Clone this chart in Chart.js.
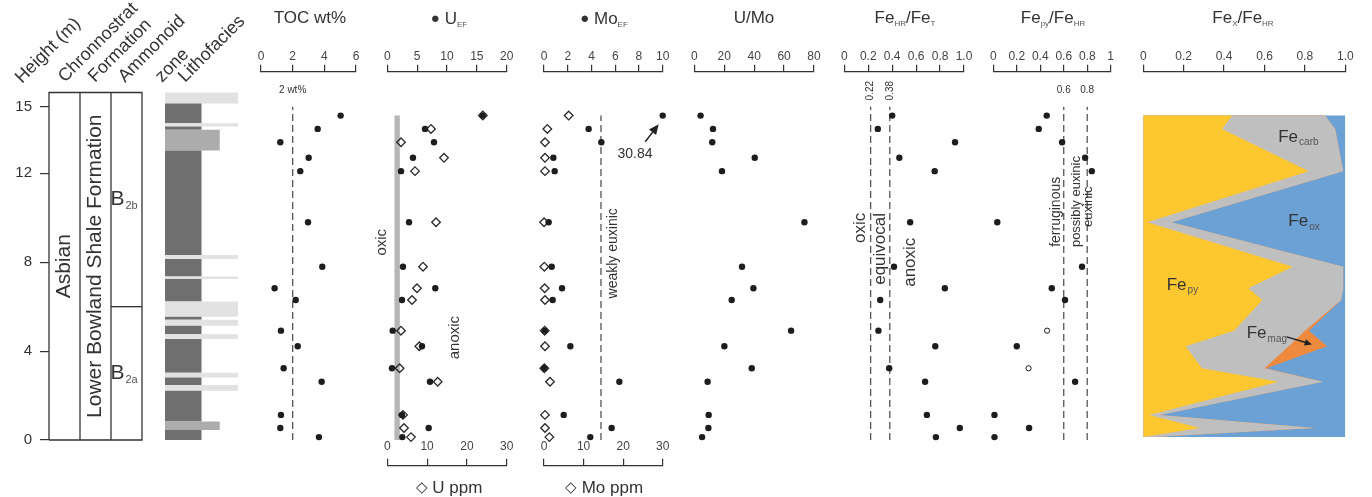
<!DOCTYPE html>
<html>
<head>
<meta charset="utf-8">
<title>Geochemical profile</title>
<script src="https://cdn.jsdelivr.net/npm/chart.js@4.4.1/dist/chart.umd.min.js"></script>
<style>
  body { margin: 0; background: #fff; }
  #page { position: relative; width: 1372px; height: 497px; overflow: hidden;
          font-family: "Liberation Sans", Arial, sans-serif; color: #333; }
  #page canvas { position: absolute; top: 0; }
  .title { position: absolute; top: 8px; font-size: 17px; line-height: 20px; white-space: nowrap; transform: translateX(-50%); }
  .title sub, .foot sub { font-size: 8px; vertical-align: -3px; color: #555; }
  .mark { font-size: 15px; vertical-align: 1px; }
  .foot { position: absolute; top: 477px; font-size: 17px; line-height: 20px; white-space: nowrap; transform: translateX(-50%); }
  .head { position: absolute; font-size: 18px; line-height: 18px; white-space: nowrap; transform-origin: 0 100%; transform: rotate(-45deg); }
</style>
</head>
<body>
<div id="page"></div>
<script>
// sample heights (m) shared by the geochemistry panels, top to bottom
const sampleHeight = [14.6, 14.0, 13.4, 12.7, 12.1, 9.8, 7.8, 6.83, 6.3, 4.92, 4.22, 3.23, 2.62, 1.13, 0.54, 0.13];
const toc    = [5.03, 3.58, 1.22, 3.01, 2.48, 2.97, 3.87, 0.86, 2.19, 1.26, 2.32, 1.43, 3.83, 1.26, 1.22, 3.66];
const uEF    = [15.97, 6.32, 7.82, 4.30, 2.30, 3.64, 2.63, 8.04, 2.46, 0.90, 5.81, 0.79, 7.15, 2.46, 6.93, 2.52];
const uPpm   = [24.0, 10.98, 3.44, 14.25, 6.96, 12.24, 8.97, 7.46, 6.21, 3.44, 8.04, 3.10, 12.66, 3.94, 4.19, 5.95];
const moEF   = [30.84, 3.76, 4.83, 0.79, 0.90, 0.39, 0.65, 1.52, 0.73, 0.06, 2.22, 0.03, 6.35, 1.66, 5.70, 3.90];
const moPpm  = [6.24, 0.84, 0.25, 0.25, 0.25, 0.02, 0.08, 0.17, 0.25, 0.17, 0.25, 0.08, 1.52, 0.25, 0.25, 1.35];
const uMo    = [4.2, 12.5, 12.0, 40.4, 18.5, 73.6, 31.9, 39.5, 25.0, 64.7, 20.1, 38.4, 8.9, 9.6, 9.4, 5.2];
const feHRT  = [0.40, 0.28, 0.925, 0.46, 0.755, 0.55, 0.415, 0.84, 0.30, 0.285, 0.76, 0.375, 0.675, 0.69, 0.965, 0.765];
const fePyHR = [0.455, 0.387, 0.586, 0.782, 0.839, 0.034, 0.756, 0.498, 0.611, 0.458, 0.20, 0.30, 0.697, 0.01, 0.305, 0.01];
const fePyOpen = [false, false, false, false, false, false, false, false, false, true, false, true, false, false, false, false];

// Fe speciation (fractions of FeHR)
const feSpecHeight = [14.6, 14.0, 12.1, 9.8, 7.8, 6.83, 6.3, 4.92, 4.22, 3.23, 2.62, 1.13, 0.54, 0.13];
const fePy   = [0.44, 0.39, 0.82, 0.02, 0.74, 0.52, 0.59, 0.45, 0.21, 0.29, 0.67, 0.03, 0.28, 0.00];
const feCarb = [0.46, 0.56, 0.17, 0.12, 0.25, 0.47, 0.39, 0.35, 0.51, 0.31, 0.22, 0.05, 0.57, 0.05];
const feMag  = [0, 0, 0, 0, 0, 0, 0, 0.02, 0.19, 0.01, 0, 0, 0, 0];
const feOx   = [0.10, 0.05, 0.01, 0.86, 0.01, 0.01, 0.02, 0.18, 0.09, 0.39, 0.11, 0.92, 0.15, 0.95];

// thresholds
const tocLimit = 2;
const moLimit = 14.4;          // Mo ppm, weakly euxinic
const feHRLimits = [0.22, 0.38];
const fePyLimits = [0.6, 0.8];
const limitTop = 15.0;
const moLimitTop = 14.6;
const oxicUEF = [1.2, 2.1];    // grey oxic band of U_EF
const oxicTop = 14.6;

// stratigraphy
const sectionTop = 15.64;
const zoneBoundary = 6.0;      // B2a / B2b
const lithoBase = [0, 0.45, 0.83, 2.22, 2.48, 2.81, 3.03, 4.54, 4.76, 5.14, 5.41, 5.55, 6.23, 7.24, 7.36, 8.14, 8.33, 13.03, 13.96, 14.11, 14.26, 15.14];
const lithoTop  = [0.45, 0.83, 2.22, 2.48, 2.81, 3.03, 4.54, 4.76, 5.14, 5.41, 5.55, 6.23, 7.24, 7.36, 8.14, 8.33, 13.03, 13.96, 14.11, 14.26, 15.14, 15.64];
const lithoType = ['M', 'S', 'M', 'L', 'M', 'L', 'M', 'L', 'M', 'L', 'M', 'L', 'M', 'L', 'M', 'L', 'M', 'S', 'M', 'L', 'M', 'L'];

// tick labels
const heightTicks = [0, 4, 8, 12, 15];
const tocTicks = [0, 2, 4, 6];
const uEFTicks = [0, 5, 10, 15, 20];
const uPpmTicks = [0, 10, 20, 30];
const moEFTicks = [0, 2, 4, 6, 8, 10];
const moPpmTicks = [0, 10, 20, 30];
const uMoTicks = [0, 20, 40, 60, 80];
const fracTicks = [0, 0.2, 0.4, 0.6, 0.8, 1];

// layout
const Y_MIN = -1.157, Y_MAX = 16.575;
const AREA_TOP = 71.7, AREA_BOTTOM = 465.7, PAGE_H = 497;
const FONT = '"Liberation Sans", Arial, sans-serif';
const INK = '#333';
const litStyle = { M: { w: 0.5, c: '#6f6f6f' }, S: { w: 0.75, c: '#acacac' }, L: { w: 1, c: '#e2e2e2' } };

const page = document.getElementById('page');

function addCanvas(left, width) {
  const c = document.createElement('canvas');
  c.width = width; c.height = PAGE_H;
  c.style.left = left + 'px';
  c.style.width = width + 'px';
  c.style.height = PAGE_H + 'px';
  page.appendChild(c);
  return c;
}

const pts = (xs, ys) => xs.map((v, i) => ({ x: v, y: ys[i] }));
const setTicks = vals => s => { s.ticks = vals.map(v => ({ value: v })); };

function topAxis(min, max, vals, fmt, height, pad) {
  return {
    type: 'linear', position: 'top', min, max,
    afterFit: s => { s.height = height || AREA_TOP; },
    afterBuildTicks: setTicks(vals),
    ticks: { autoSkip: false, maxRotation: 0, padding: pad == null ? 1 : pad, color: '#444', font: { family: FONT, size: 12 },
             callback: fmt || (v => String(v)) },
    grid: { drawOnChartArea: false, drawTicks: true, tickLength: 7, color: INK, lineWidth: 1.2 },
    border: { display: true, color: INK, width: 1.2 }
  };
}

const dot = (data, extra) => Object.assign({
  data, pointRadius: 3.2, pointBackgroundColor: '#1d1d1d', pointBorderColor: '#1d1d1d',
  pointBorderWidth: 0, showLine: false, clip: false
}, extra);

const diamond = (data, axis) => ({
  data, xAxisID: axis, pointStyle: 'rectRot', pointRadius: 4.3, pointBorderColor: '#2a2a2a',
  pointBorderWidth: 1.3, pointBackgroundColor: 'rgba(0,0,0,0)', showLine: false, clip: false
});

const dashed = (x, y0, y1, axis) => ({
  data: [{ x, y: y0 }, { x, y: y1 }], xAxisID: axis || 'x', showLine: true,
  borderColor: '#555', borderWidth: 1.3, borderDash: [7, 4], pointRadius: 0, clip: false
});

const shape = (data, color, axis) => ({
  data, xAxisID: axis || 'x', showLine: true, fill: 'shape', backgroundColor: color,
  borderColor: 'rgba(0,0,0,0)', borderWidth: 1, pointRadius: 0, clip: false
});

const rect = (x0, x1, y0, y1) => [{ x: x0, y: y0 }, { x: x1, y: y0 }, { x: x1, y: y1 }, { x: x0, y: y1 }];

function profileShape(xs, hs) {
  const p = xs.map((v, i) => ({ x: v, y: hs[i] }));
  p.push({ x: 0, y: hs[hs.length - 1] }, { x: 0, y: hs[0] });
  return p;
}
const cum = (...arrs) => arrs[0].map((_, i) => arrs.reduce((s, a) => s + a[i], 0));

function drawLabel(ctx, n, px, py) {
  const size = n.size || 15;
  const subSize = n.subSize || Math.round(size * 0.6);
  ctx.save();
  ctx.translate(px, py);
  if (n.rot) ctx.rotate(n.rot * Math.PI / 180);
  ctx.fillStyle = n.color || INK;
  ctx.textBaseline = 'middle';
  ctx.textAlign = 'left';
  ctx.font = size + 'px ' + FONT;
  const w = ctx.measureText(n.text).width;
  let sw = 0;
  if (n.sub) { ctx.font = subSize + 'px ' + FONT; sw = ctx.measureText(n.sub).width + 1; }
  const x0 = n.align === 'left' ? 0 : -(w + sw) / 2;
  ctx.font = size + 'px ' + FONT;
  ctx.fillText(n.text, x0, 0);
  if (n.sub) {
    ctx.font = subSize + 'px ' + FONT;
    ctx.fillStyle = n.subColor || '#555';
    ctx.fillText(n.sub, x0 + w + 1, size * 0.32);
  }
  ctx.restore();
}

function drawArrow(ctx, x1, y1, x2, y2, head) {
  const a = Math.atan2(y2 - y1, x2 - x1);
  ctx.save();
  ctx.strokeStyle = ctx.fillStyle = '#222';
  ctx.lineWidth = 1.5;
  ctx.beginPath();
  ctx.moveTo(x1, y1);
  ctx.lineTo(x2 - head * 0.7 * Math.cos(a), y2 - head * 0.7 * Math.sin(a));
  ctx.stroke();
  ctx.beginPath();
  ctx.moveTo(x2, y2);
  ctx.lineTo(x2 - head * Math.cos(a - 0.42), y2 - head * Math.sin(a - 0.42));
  ctx.lineTo(x2 - head * Math.cos(a + 0.42), y2 - head * Math.sin(a + 0.42));
  ctx.closePath();
  ctx.fill();
  ctx.restore();
}

// text and arrows placed in data units through the chart's scales
function notes(list) {
  return {
    id: 'notes',
    afterDatasetsDraw(chart) {
      const ctx = chart.ctx;
      list.forEach(n => {
        const sx = chart.scales[n.axis || 'x'], sy = chart.scales.y;
        const px = sx.getPixelForValue(n.x), py = sy.getPixelForValue(n.y);
        if (n.to) {
          drawArrow(ctx, px, py, sx.getPixelForValue(n.to[0]), sy.getPixelForValue(n.to[1]), n.head || 9);
        } else {
          drawLabel(ctx, n, px, py);
        }
      });
    }
  };
}

const baseOpts = () => ({
  responsive: false, animation: false, devicePixelRatio: 1, events: [],
  plugins: { legend: { display: false }, tooltip: { enabled: false } }
});

function panel(L, R, scales, datasets, list) {
  const left = Math.floor(L) - 30;
  const width = Math.ceil(R) + 30 - left;
  const opts = baseOpts();
  opts.layout = { padding: { left: L - left, right: left + width - R, top: 0, bottom: PAGE_H - AREA_BOTTOM } };
  opts.scales = Object.assign({ y: { type: 'linear', display: false, min: Y_MIN, max: Y_MAX } }, scales);
  return new Chart(addCanvas(left, width), {
    type: 'scatter', data: { datasets }, options: opts, plugins: [notes(list || [])]
  });
}

// lower concentration axis: its line sits at the foot of the panel, labels above the line
function lowerAxis(L, R, min, max, vals) {
  const left = Math.floor(L) - 30;
  const width = Math.ceil(R) + 30 - left;
  const opts = baseOpts();
  opts.layout = { padding: { left: L - left, right: left + width - R, top: 0, bottom: 0 } };
  opts.scales = {
    x: topAxis(min, max, vals, null, AREA_BOTTOM, 4.8),
    y: { type: 'linear', display: false, min: 0, max: 1 }
  };
  return new Chart(addCanvas(left, width), { type: 'scatter', data: { datasets: [] }, options: opts });
}

// ---- height axis + stratigraphic columns ----
(function () {
  const line = (data) => ({ data, showLine: true, borderColor: INK, borderWidth: 1.3, pointRadius: 0, clip: false, borderJoinStyle: 'miter' });
  const opts = baseOpts();
  opts.layout = { padding: { left: 0, right: 8, top: AREA_TOP, bottom: PAGE_H - AREA_BOTTOM } };
  opts.scales = {
    x: { type: 'linear', display: false, min: 0, max: 3 },
    y: {
      type: 'linear', position: 'left', min: Y_MIN, max: Y_MAX,
      afterFit: s => { s.width = 49; },
      afterBuildTicks: setTicks(heightTicks),
      ticks: { padding: 8, color: INK, font: { family: FONT, size: 15 } },
      grid: { drawOnChartArea: false, drawTicks: true, tickLength: 9, color: INK, lineWidth: 1.2 },
      border: { display: false }
    }
  };
  new Chart(addCanvas(0, 150), {
    type: 'scatter',
    data: { datasets: [
      line([{ x: 0, y: 0 }, { x: 3, y: 0 }, { x: 3, y: sectionTop }, { x: 0, y: sectionTop }, { x: 0, y: 0 }]),
      line([{ x: 1, y: 0 }, { x: 1, y: sectionTop }]),
      line([{ x: 2, y: 0 }, { x: 2, y: sectionTop }]),
      line([{ x: 2, y: zoneBoundary }, { x: 3, y: zoneBoundary }])
    ] },
    options: opts,
    plugins: [notes([
      { x: 0.5, y: sectionTop / 2, text: 'Asbian', rot: -90, size: 21 },
      { x: 1.5, y: sectionTop / 2, text: 'Lower Bowland Shale Formation', rot: -90, size: 21 },
      { x: 2.42, y: (zoneBoundary + sectionTop) / 2, text: 'B', sub: '2b', size: 21, subSize: 11 },
      { x: 2.42, y: zoneBoundary / 2, text: 'B', sub: '2a', size: 21, subSize: 11 }
    ])]
  });
})();

// ---- lithofacies ----
(function () {
  const opts = baseOpts();
  opts.layout = { padding: { left: 15, right: 12, top: AREA_TOP, bottom: PAGE_H - AREA_BOTTOM } };
  opts.scales = {
    x: { type: 'linear', display: false, min: 0, max: 1 },
    y: { type: 'linear', display: false, min: Y_MIN, max: Y_MAX }
  };
  const sets = lithoType.map((t, i) => shape(rect(0, litStyle[t].w, lithoBase[i], lithoTop[i]), litStyle[t].c));
  new Chart(addCanvas(150, 100), { type: 'scatter', data: { datasets: sets }, options: opts });
})();

// ---- TOC ----
panel(261, 356, { x: topAxis(0, 6, tocTicks) }, [
  dot(pts(toc, sampleHeight)),
  dashed(tocLimit, 0, limitTop)
], [{ x: tocLimit, y: 15.75, text: '2 wt%', size: 10 }]);

// ---- U ----
panel(387.3, 506.7, { x: topAxis(0, 20, uEFTicks), x2: { type: 'linear', display: false, min: 0, max: 30 } }, [
  dot(pts(uEF, sampleHeight)),
  diamond(pts(uPpm, sampleHeight), 'x2'),
  shape(rect(oxicUEF[0], oxicUEF[1], 0, oxicTop), '#b6b6b6')
], [
  { x: -0.94, y: 8.9, text: 'oxic', rot: -90, size: 15 },
  { x: 11.34, y: 4.61, text: 'anoxic', rot: -90, size: 15 }
]);
lowerAxis(387.3, 506.7, 0, 30, uPpmTicks);

// ---- Mo ----
const moMax = moEFTicks[moEFTicks.length - 1];
panel(544, 662.7, { x: topAxis(0, moMax, moEFTicks), x2: { type: 'linear', display: false, min: 0, max: 30 } }, [
  dot(pts(moEF.map(v => Math.min(v, moMax)), sampleHeight)),
  diamond(pts(moPpm, sampleHeight), 'x2'),
  dashed(moLimit, 0, moLimitTop, 'x2')
], [
  { x: 5.8, y: 8.4, text: 'weakly euxinic', rot: -90, size: 14 },
  { x: 8.53, y: 13.42, to: [9.66, 14.21], head: 11 },
  { x: 7.67, y: 12.85, text: moEF[0].toFixed(2), size: 14 }
]);
lowerAxis(544, 662.7, 0, 30, moPpmTicks);

// ---- U/Mo ----
panel(694.3, 814, { x: topAxis(0, 80, uMoTicks) }, [dot(pts(uMo, sampleHeight))]);

// ---- FeHR/FeT ----
const fmt1 = v => (v === 0 ? '0' : v.toFixed(1));
panel(844.3, 964, { x: topAxis(0, 1, fracTicks, fmt1) }, [
  dot(pts(feHRT, sampleHeight)),
  dashed(feHRLimits[0], 0, limitTop),
  dashed(feHRLimits[1], 0, limitTop)
], [
  { x: feHRLimits[0], y: 15.72, text: String(feHRLimits[0]), rot: -90, size: 10 },
  { x: feHRLimits[1], y: 15.72, text: String(feHRLimits[1]), rot: -90, size: 10 },
  { x: 0.131, y: 9.55, text: 'oxic', rot: -90, size: 17 },
  { x: 0.305, y: 8.6, text: 'equivocal', rot: -90, size: 17 },
  { x: 0.549, y: 8.0, text: 'anoxic', rot: -90, size: 17 }
]);

// ---- Fepy/FeHR ----
panel(993.3, 1110.7, { x: topAxis(0, 1, fracTicks, v => (v === 0 || v === 1 ? String(v) : v.toFixed(1))) }, [
  dot(pts(fePyHR, sampleHeight), {
    pointBackgroundColor: c => (fePyOpen[c.dataIndex] ? '#fff' : '#1d1d1d'),
    pointBorderWidth: c => (fePyOpen[c.dataIndex] ? 1 : 0),
    pointRadius: c => (fePyOpen[c.dataIndex] ? 2.6 : 3.2)
  }),
  dashed(fePyLimits[0], 0, limitTop),
  dashed(fePyLimits[1], 0, limitTop)
], [
  { x: fePyLimits[0], y: 15.75, text: String(fePyLimits[0]), size: 10 },
  { x: fePyLimits[1], y: 15.75, text: String(fePyLimits[1]), size: 10 },
  { x: 0.533, y: 10.27, text: 'ferruginous', rot: -90, size: 14 },
  { x: 0.711, y: 10.73, text: 'possibly euxinic', rot: -90, size: 13 },
  { x: 0.807, y: 10.5, text: 'euxinic', rot: -90, size: 13 }
]);

// ---- FeX/FeHR speciation ----
const cPy = fePy;
const cCarb = cum(fePy, feCarb);
const cMag = cum(fePy, feCarb, feMag);
const cOx = cum(fePy, feCarb, feMag, feOx);
panel(1143.3, 1345.3, { x: topAxis(0, 1, fracTicks, fmt1) }, [
  shape(profileShape(cPy, feSpecHeight), '#fdc72f'),
  shape(profileShape(cCarb, feSpecHeight), '#bfbfbf'),
  shape(profileShape(cMag, feSpecHeight), '#ee8a3e'),
  shape(profileShape(cOx, feSpecHeight), '#6ba1d5')
], [
  { x: 0.668, y: 13.64, text: 'Fe', sub: 'carb', size: 17, subSize: 10, align: 'left' },
  { x: 0.718, y: 9.82, text: 'Fe', sub: 'ox', size: 17, subSize: 10, align: 'left' },
  { x: 0.116, y: 6.98, text: 'Fe', sub: 'py', size: 17, subSize: 10, align: 'left' },
  { x: 0.512, y: 4.8, text: 'Fe', sub: 'mag', size: 17, subSize: 10, align: 'left' },
  { x: 0.71, y: 4.64, to: [0.835, 4.3], head: 8 }
]);

// ---- header text ----
const heads = [['Height (m)', 24, 86], ['Chronnostrat', 67, 85], ['Formation', 97, 85],
               ['Ammonoid', 127, 85], ['zone', 164, 85], ['Lithofacies', 187, 85]];
heads.forEach(([t, x, y]) => {
  const d = document.createElement('div');
  d.className = 'head';
  d.textContent = t;
  d.style.left = x + 'px';
  d.style.top = (y - 18) + 'px';
  page.appendChild(d);
});

const titles = [
  ['TOC wt%', 310], ['<span class="mark">●</span> U<sub>EF</sub>', 449], ['<span class="mark">●</span> Mo<sub>EF</sub>', 604],
  ['U/Mo', 754], ['Fe<sub>HR</sub>/Fe<sub>T</sub>', 905], ['Fe<sub>py</sub>/Fe<sub>HR</sub>', 1053], ['Fe<sub>X</sub>/Fe<sub>HR</sub>', 1243]
];
titles.forEach(([h, x]) => {
  const d = document.createElement('div');
  d.className = 'title';
  d.innerHTML = h;
  d.style.left = x + 'px';
  page.appendChild(d);
});
[['<span class="mark">◇</span> U ppm', 449], ['<span class="mark">◇</span> Mo ppm', 604]].forEach(([h, x]) => {
  const d = document.createElement('div');
  d.className = 'foot';
  d.innerHTML = h;
  d.style.left = x + 'px';
  page.appendChild(d);
});
</script>
</body>
</html>
